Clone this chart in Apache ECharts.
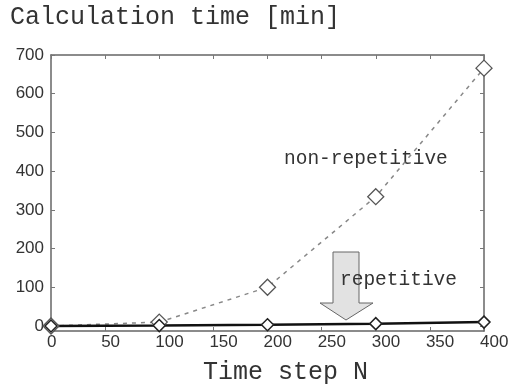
<!DOCTYPE html>
<html><head><meta charset="utf-8">
<script src="https://cdn.jsdelivr.net/npm/echarts@6/dist/echarts.min.js"></script>
<style>html,body{margin:0;padding:0;background:#fff}#c{width:509px;height:392px}</style>
</head><body><div id="c"></div>
<script>
const timeSteps = [0, 100, 200, 300, 400];
const nonRepetitive = [0, 10, 100, 334, 666];
const repetitive = [0, 1, 3, 6, 10];
const yTicks = [0, 100, 200, 300, 400, 500, 600, 700];
const xTicks = [0, 50, 100, 150, 200, 250, 300, 350, 400];

const chart = echarts.init(document.getElementById('c'));
const frame = { onZero: false, lineStyle: { color: '#666', width: 1.5 } };
const inTick = { show: true, inside: true, length: 4, lineStyle: { color: '#777', width: 1 } };
chart.setOption({
  animation: false,
  grid: { left: 51, right: 25, top: 55, bottom: 61, outerBoundsMode: 'none', containLabel: false },
  xAxis: [
    { type: 'value', min: 0, max: 400, interval: 50, position: 'bottom',
      axisLine: frame, splitLine: { show: false }, axisTick: inTick,
      axisLabel: { fontFamily: 'Liberation Sans', fontSize: 17, color: '#333', margin: 3, align: 'left',
        customValues: xTicks, padding: [0, 0, 0, -4] } },
    { type: 'value', min: 0, max: 400, interval: 50, position: 'top',
      axisLine: frame, splitLine: { show: false }, axisTick: inTick, axisLabel: { show: false } }
  ],
  yAxis: [
    { type: 'value', min: -13, max: 700, position: 'left',
      axisLine: frame, splitLine: { show: false },
      axisTick: Object.assign({ customValues: yTicks }, inTick),
      axisLabel: { fontFamily: 'Liberation Sans', fontSize: 17, color: '#333', margin: 7, customValues: yTicks } },
    { type: 'value', min: -13, max: 700, position: 'right',
      axisLine: frame, splitLine: { show: false },
      axisTick: Object.assign({ customValues: yTicks }, inTick), axisLabel: { show: false } }
  ],
  series: [
    { type: 'line', name: 'non-repetitive', data: timeSteps.map((x, i) => [x, nonRepetitive[i]]),
      symbol: 'diamond', symbolSize: 16,
      lineStyle: { color: '#888', width: 1.5, type: [4, 5] },
      itemStyle: { color: '#fff', borderColor: '#555', borderWidth: 1.3 } },
    { type: 'line', name: 'repetitive', data: timeSteps.map((x, i) => [x, repetitive[i]]),
      symbol: 'diamond', symbolSize: 12,
      lineStyle: { color: '#111', width: 2.5 },
      itemStyle: { color: '#fff', borderColor: '#222', borderWidth: 1.5 } }
  ],
  graphic: [
    { type: 'text', left: 10, top: 5, style: { text: 'Calculation time [min]', fontFamily: 'Liberation Mono', fontSize: 25, fill: '#333' } },
    { type: 'text', left: 203, top: 360, style: { text: 'Time step N', fontFamily: 'Liberation Mono', fontSize: 25, fill: '#333' } },
    { type: 'text', left: 284, top: 149, style: { text: 'non-repetitive', fontFamily: 'Liberation Mono', fontSize: 19.5, fill: '#333' } },
    { type: 'polygon', z: 50, shape: { points: [[333, 252], [359, 252], [359, 303], [373, 303], [346, 320], [320, 303], [333, 303]] },
      style: { fill: '#e2e2e2', stroke: '#666', lineWidth: 1 } },
    { type: 'text', z: 60, left: 340, top: 270, style: { text: 'repetitive', fontFamily: 'Liberation Mono', fontSize: 19.5, fill: '#333' } }
  ]
});
</script></body></html>
